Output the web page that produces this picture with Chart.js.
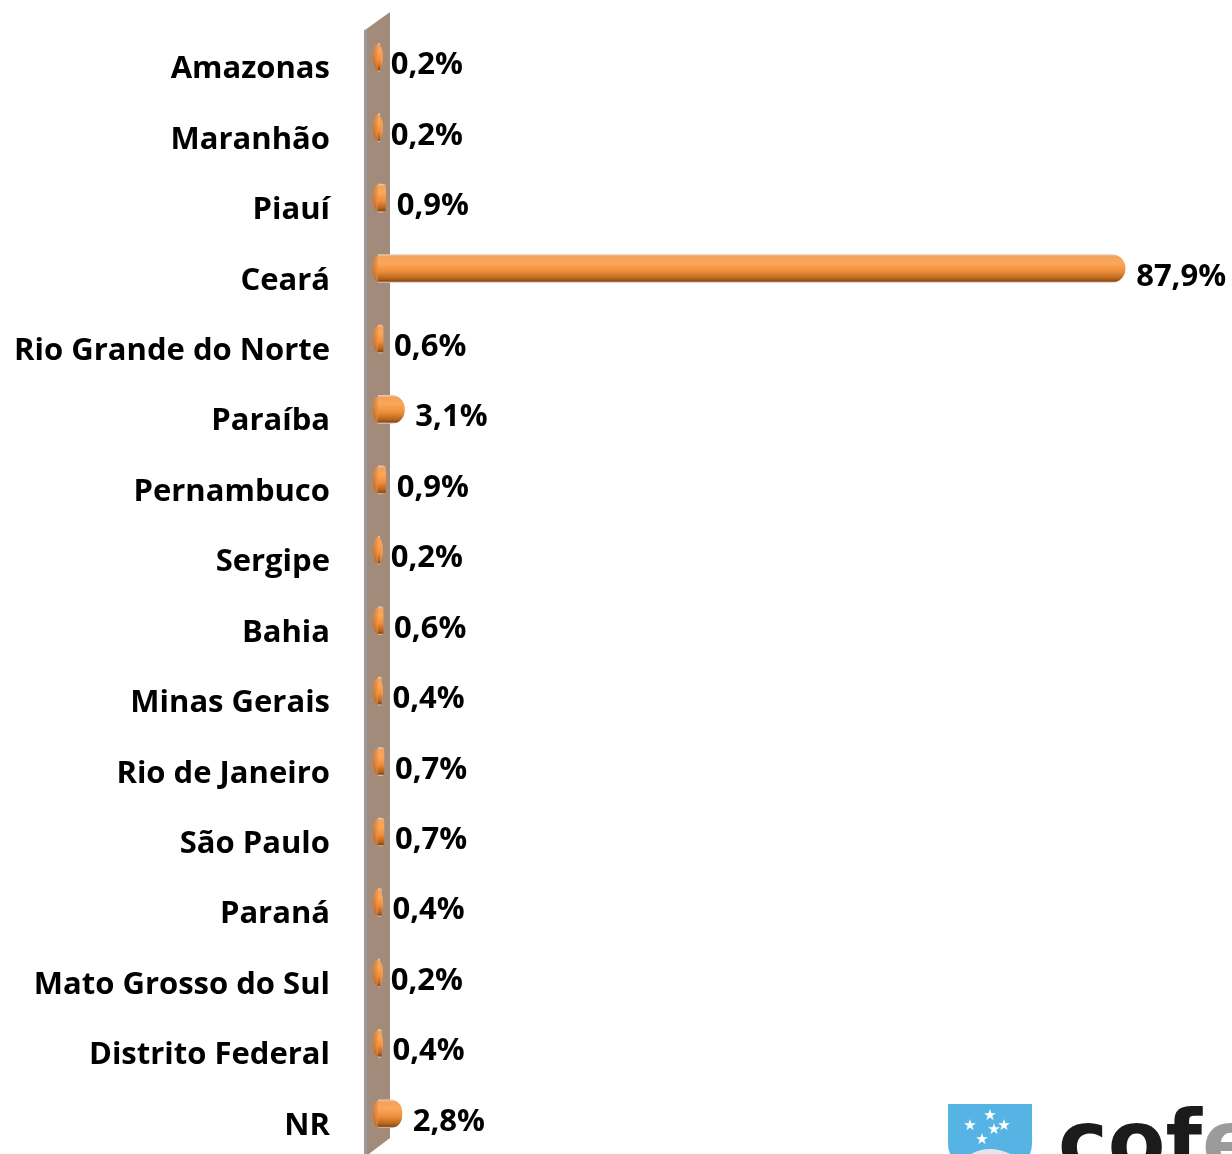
<!DOCTYPE html>
<html>
<head>
<meta charset="utf-8">
<script src="https://cdn.jsdelivr.net/npm/chart.js@4/dist/chart.umd.min.js"></script>
<style>
  html, body { margin: 0; padding: 0; background: #fff; }
  #wrap { width: 1232px; height: 1154px; position: relative; }
</style>
</head>
<body>
<div id="wrap"><canvas id="chart"></canvas></div>
<script>
const states = ['Amazonas', 'Maranhão', 'Piauí', 'Ceará', 'Rio Grande do Norte', 'Paraíba', 'Pernambuco',
  'Sergipe', 'Bahia', 'Minas Gerais', 'Rio de Janeiro', 'São Paulo', 'Paraná', 'Mato Grosso do Sul',
  'Distrito Federal', 'NR'];
const percents = [0.2, 0.2, 0.9, 87.9, 0.6, 3.1, 0.9, 0.2, 0.6, 0.4, 0.7, 0.7, 0.4, 0.2, 0.4, 2.8];
const percentLabels = ['0,2%', '0,2%', '0,9%', '87,9%', '0,6%', '3,1%', '0,9%', '0,2%', '0,6%', '0,4%',
  '0,7%', '0,7%', '0,4%', '0,2%', '0,4%', '2,8%'];

const FONT = '"Open Sans", "Lato", sans-serif';
const BAR_H = 28;

// vertical cylinder shading for a bar centred on yc
function cylGrad(ctx, yc) {
  const g = ctx.createLinearGradient(0, yc - BAR_H / 2, 0, yc + BAR_H / 2);
  g.addColorStop(0, '#e9c9a9');
  g.addColorStop(0.08, '#f3a05a');
  g.addColorStop(0.3, '#fba85a');
  g.addColorStop(0.6, '#ee8e3c');
  g.addColorStop(0.85, '#b9651f');
  g.addColorStop(0.95, '#8c4a18');
  g.addColorStop(1, '#e2c6ae');
  return g;
}

const decor = {
  id: 'decor',
  beforeDatasetsDraw(chart) {
    const { ctx, chartArea: a, scales } = chart;
    const L = a.left;
    // back wall
    ctx.save();
    ctx.beginPath();
    ctx.moveTo(L - 13, a.top + 8);
    ctx.lineTo(L + 12, a.top - 10);
    ctx.lineTo(L + 12, a.bottom - 11);
    ctx.lineTo(L - 13, a.bottom + 8);
    ctx.closePath();
    ctx.fillStyle = '#a38b7b';
    ctx.fill();
    ctx.fillStyle = '#9a9a9a';
    ctx.fillRect(L - 14, a.top + 8, 3, a.bottom - a.top);
    // left caps of cylinders
    const x0 = scales.x.getPixelForValue(0);
    chart.getDatasetMeta(0).data.forEach(bar => {
      const h = ctx.createLinearGradient(x0 - 5, 0, x0 + 5, 0);
      h.addColorStop(0, '#b8621c');
      h.addColorStop(0.5, '#ef9346');
      h.addColorStop(1, '#f6a257');
      ctx.beginPath();
      ctx.ellipse(x0, bar.y, 5, BAR_H / 2 - 1, 0, 0, Math.PI * 2);
      ctx.fillStyle = cylGrad(ctx, bar.y);
      ctx.fill();
      ctx.fillStyle = h;
      ctx.globalAlpha = 0.6;
      ctx.fill();
      ctx.globalAlpha = 1;
    });
    ctx.restore();
  },
  afterDatasetsDraw(chart) {
    const { ctx, chartArea: a, scales } = chart;
    ctx.save();
    ctx.fillStyle = '#000';
    ctx.font = 'bold 31px ' + FONT;
    ctx.textBaseline = 'alphabetic';
    // category labels
    ctx.textAlign = 'right';
    states.forEach((s, i) => {
      ctx.fillText(s, a.left - 48, scales.y.getPixelForValue(i) + 21);
    });
    // value labels
    ctx.textAlign = 'left';
    chart.getDatasetMeta(0).data.forEach((bar, i) => {
      ctx.fillText(percentLabels[i], bar.x + 11, bar.y + 17);
    });
    // logo (partially cropped in the original)
    const sx = 948, sy = 1104;
    ctx.beginPath();
    ctx.moveTo(sx, sy);
    ctx.lineTo(sx + 84, sy);
    ctx.lineTo(sx + 84, sy + 40);
    ctx.quadraticCurveTo(sx + 84, sy + 60, sx + 60, sy + 60);
    ctx.lineTo(sx + 24, sy + 60);
    ctx.quadraticCurveTo(sx, sy + 60, sx, sy + 40);
    ctx.closePath();
    ctx.fillStyle = '#55b4e4';
    ctx.fill();
    ctx.fillStyle = '#e6e6ea';
    ctx.beginPath();
    ctx.moveTo(sx + 10, sy + 60);
    ctx.quadraticCurveTo(sx + 40, sy + 30, sx + 78, sy + 60);
    ctx.fill();
    ctx.fillStyle = '#fff';
    ctx.font = '15px "DejaVu Sans"';
    ctx.textAlign = 'center';
    [[42, 16], [22, 26], [56, 26], [34, 40], [46, 30]].forEach(p => ctx.fillText('★', sx + p[0], sy + p[1]));
    ctx.textAlign = 'left';
    ctx.font = 'bold 84px "DejaVu Sans", sans-serif';
    ctx.fillStyle = '#1b1b1b';
    ctx.fillText('cof', 1058, 1170);
    const w = ctx.measureText('cof').width;
    ctx.fillStyle = '#9b9b9b';
    ctx.fillText('e', 1058 + w, 1170);
    ctx.restore();
  }
};

new Chart(document.getElementById('chart'), {
  type: 'bar',
  data: {
    labels: states,
    datasets: [{
      data: percents,
      barThickness: BAR_H,
      backgroundColor: c => {
        const ys = c.chart.scales.y;
        const yc = ys ? ys.getPixelForValue(c.dataIndex) : NaN;
        if (!isFinite(yc)) return '#f79646';
        return cylGrad(c.chart.ctx, yc);
      },
      borderWidth: 0,
      borderRadius: 14,
      borderSkipped: 'start'
    }]
  },
  options: {
    indexAxis: 'y',
    responsive: true,
    maintainAspectRatio: false,
    animation: false,
    layout: { padding: { left: 378, right: 4, top: 22, bottom: 5 } },
    plugins: { legend: { display: false }, tooltip: { enabled: false } },
    scales: {
      x: { display: false, min: 0, max: 100, grid: { display: false } },
      y: { display: false, grid: { display: false } }
    }
  },
  plugins: [decor]
});
</script>
</body>
</html>
